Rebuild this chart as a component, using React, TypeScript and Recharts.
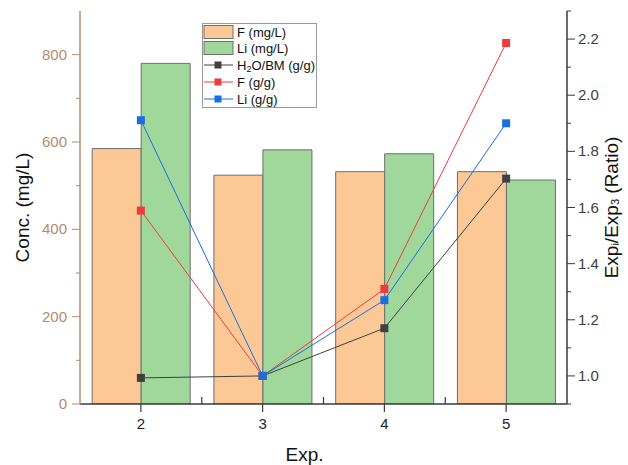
import { Bar, ComposedChart, Label, Legend, Line, XAxis, YAxis } from "recharts";

const exps = ["2", "3", "4", "5"];
const fConc = [585, 524, 532, 532]; // mg/L
const liConc = [780, 582, 573, 513]; // mg/L
const h2oRatio = [0.993, 1.0, 1.17, 1.703];
const fRatio = [1.589, 1.0, 1.31, 2.186];
const liRatio = [1.911, 1.0, 1.27, 1.9];

const leftTicks = [0, 100, 200, 300, 400, 500, 600, 700, 800];
const rightTicks = [0.9, 1.0, 1.1, 1.2, 1.3, 1.4, 1.5, 1.6, 1.7, 1.8, 1.9, 2.0, 2.1, 2.2, 2.3];

const data = exps.map((e, i) => ({
  exp: e,
  fConc: fConc[i],
  liConc: liConc[i],
  h2o: h2oRatio[i],
  fRatio: fRatio[i],
  liRatio: liRatio[i],
}));

const FONT = "'Liberation Sans', Arial, sans-serif";
const TAN = "#b48c6c";
const AXIS_DARK = "#3a3a3a";
const PEACH = "#fcc896";
const GREEN = "#a0d89b";
const BAR_STROKE = "#6e6e6e";
const BLACK_LINE = "#404040";
const RED = "#ef3b3b";
const BLUE = "#1a6ee0";

const W = 628;
const H = 465;
const PLOT_LEFT = 80;
const PLOT_RIGHT = 567;
const BAND = (PLOT_RIGHT - PLOT_LEFT) / exps.length;

const LeftTick = (p: any) => {
  const v = p.payload.value;
  const major = v % 200 === 0;
  return (
    <g>
      <line x1={p.x} x2={p.x - (major ? 8 : 4)} y1={p.y} y2={p.y} stroke={TAN} strokeWidth={1} />
      {major && (
        <text x={p.x - 13} y={p.y + 5} textAnchor="end" fill={TAN} fontSize={15} fontFamily={FONT}>
          {v}
        </text>
      )}
    </g>
  );
};

const RightTick = (p: any) => {
  const v = p.payload.value;
  const major = Math.round(v * 10) % 2 === 0;
  return (
    <g>
      <line x1={p.x} x2={p.x + (major ? 8 : 4)} y1={p.y} y2={p.y} stroke={AXIS_DARK} strokeWidth={1} />
      {major && (
        <text x={p.x + 11} y={p.y + 5} textAnchor="start" fill="#404040" fontSize={15} fontFamily={FONT}>
          {v.toFixed(1)}
        </text>
      )}
    </g>
  );
};

const BottomTick = (p: any) => {
  return (
    <g>
      <line x1={p.x} x2={p.x} y1={p.y} y2={p.y + 8} stroke={AXIS_DARK} strokeWidth={1.2} />
      {p.index < exps.length - 1 && (
        <line x1={p.x + BAND / 2} x2={p.x + BAND / 2} y1={p.y} y2={p.y - 7} stroke={AXIS_DARK} strokeWidth={1.2} />
      )}
      <text x={p.x} y={p.y + 25} textAnchor="middle" fill="#222" fontSize={15} fontFamily={FONT}>
        {p.payload.value}
      </text>
    </g>
  );
};

const SquareDot = (color: string) => (p: any) => {
  if (p.cx == null || p.cy == null) return <g key={p.index} />;
  return <rect key={p.index} x={p.cx - 4} y={p.cy - 4} width={8} height={8} fill={color} />;
};

const LegendBox = () => {
  const rows = [
    { kind: "bar", color: PEACH, label: <>F (mg/L)</> },
    { kind: "bar", color: GREEN, label: <>Li (mg/L)</> },
    {
      kind: "line",
      color: BLACK_LINE,
      label: (
        <>
          H<tspan dy={2} fontSize={9}>2</tspan>
          <tspan dy={-2}>O/BM (g/g)</tspan>
        </>
      ),
    },
    { kind: "line", color: RED, label: <>F (g/g)</> },
    { kind: "line", color: BLUE, label: <>Li (g/g)</> },
  ];
  const ys = [32, 48, 65, 82, 99];
  return (
    <svg width={116} height={86} style={{ display: "block" }}>
      <rect x={0.5} y={0.5} width={114} height={84} fill="#fff" stroke="#9a9a9a" strokeWidth={1} />
      {rows.map((r, i) => {
        const cy = ys[i] - 23;
        return (
          <g key={i}>
            {r.kind === "bar" ? (
              <rect x={2} y={cy - 6.5} width={29} height={13} fill={r.color} stroke={BAR_STROKE} strokeWidth={1} />
            ) : (
              <g>
                <line x1={2} x2={31} y1={cy} y2={cy} stroke={r.color} strokeWidth={1} />
                <rect x={12.5} y={cy - 3.5} width={7} height={7} fill={r.color} />
              </g>
            )}
            <text x={35} y={cy + 5} fontSize={13} fontFamily={FONT} fill="#111">
              {r.label}
            </text>
          </g>
        );
      })}
    </svg>
  );
};

const LeftTitle = (p: any) => {
  const vb = p.viewBox;
  const cx = 22;
  const cy = vb.y + vb.height / 2;
  return (
    <text x={cx} y={cy} transform={`rotate(-90 ${cx} ${cy})`} textAnchor="middle" dominantBaseline="central" fontSize={19} fontFamily={FONT} fill="#111">
      Conc. (mg/L)
    </text>
  );
};

const RightTitle = (p: any) => {
  const vb = p.viewBox;
  const cx = 611;
  const cy = vb.y + vb.height / 2;
  return (
    <text x={cx} y={cy} transform={`rotate(-90 ${cx} ${cy})`} textAnchor="middle" dominantBaseline="central" fontSize={19} fontFamily={FONT} fill="#111">
      Exp<tspan dy={4} fontSize={11}>i</tspan>
      <tspan dy={-4}>/Exp</tspan>
      <tspan dy={4} fontSize={11}>3</tspan>
      <tspan dy={-4}> (Ratio)</tspan>
    </text>
  );
};

const BottomTitle = (p: any) => {
  const vb = p.viewBox;
  return (
    <text x={vb.x + vb.width / 2 - 19} y={461} textAnchor="middle" fontSize={19} fontFamily={FONT} fill="#111">
      Exp.
    </text>
  );
};

export default function App() {
  return (
    <div style={{ position: "absolute", left: 0, top: 0, width: W, height: H, background: "#fff" }}>
      <ComposedChart
        width={W}
        height={H}
        data={data}
        margin={{ top: 11, right: 21, bottom: 31, left: 30 }}
        barCategoryGap="10%"
        barGap={0}
      >
        <XAxis
          dataKey="exp"
          xAxisId="bottom"
          height={30}
          axisLine={{ stroke: AXIS_DARK, strokeWidth: 1.5 }}
          tickLine={false}
          tick={BottomTick}
          tickSize={0}
          tickMargin={0}
          interval={0}
        >
          <Label content={BottomTitle} />
        </XAxis>
        <XAxis
          dataKey="exp"
          xAxisId="top"
          orientation="top"
          height={0}
          tick={false}
          tickLine={false}
          axisLine={{ stroke: "#111", strokeWidth: 1.5 }}
        />
        <YAxis
          yAxisId="left"
          width={50}
          domain={[0, 900]}
          ticks={leftTicks}
          interval={0}
          axisLine={{ stroke: TAN, strokeWidth: 1.5 }}
          tickLine={false}
          tickSize={0}
          tickMargin={0}
          tick={LeftTick}
          allowDataOverflow
        >
          <Label content={LeftTitle} />
        </YAxis>
        <YAxis
          yAxisId="right"
          orientation="right"
          width={40}
          domain={[0.9, 2.3]}
          ticks={rightTicks}
          interval={0}
          axisLine={{ stroke: AXIS_DARK, strokeWidth: 1.5 }}
          tickLine={false}
          tickSize={0}
          tickMargin={0}
          tick={RightTick}
          allowDataOverflow
        >
          <Label content={RightTitle} />
        </YAxis>
        <Legend
          layout="vertical"
          align="center"
          verticalAlign="middle"
          content={() => <LegendBox />}
          wrapperStyle={{ position: "absolute", left: 202, top: 23, width: 116, height: 86 }}
        />
        <Bar dataKey="fConc" xAxisId="bottom" yAxisId="left" fill={PEACH} stroke={BAR_STROKE} strokeWidth={1} isAnimationActive={false} />
        <Bar dataKey="liConc" xAxisId="bottom" yAxisId="left" fill={GREEN} stroke={BAR_STROKE} strokeWidth={1} isAnimationActive={false} />
        <Line dataKey="h2o" xAxisId="bottom" yAxisId="right" stroke={BLACK_LINE} strokeWidth={1} dot={SquareDot(BLACK_LINE)} isAnimationActive={false} />
        <Line dataKey="fRatio" xAxisId="bottom" yAxisId="right" stroke={RED} strokeWidth={1} dot={SquareDot(RED)} isAnimationActive={false} />
        <Line dataKey="liRatio" xAxisId="bottom" yAxisId="right" stroke={BLUE} strokeWidth={1} dot={SquareDot(BLUE)} isAnimationActive={false} />
      </ComposedChart>
    </div>
  );
}
